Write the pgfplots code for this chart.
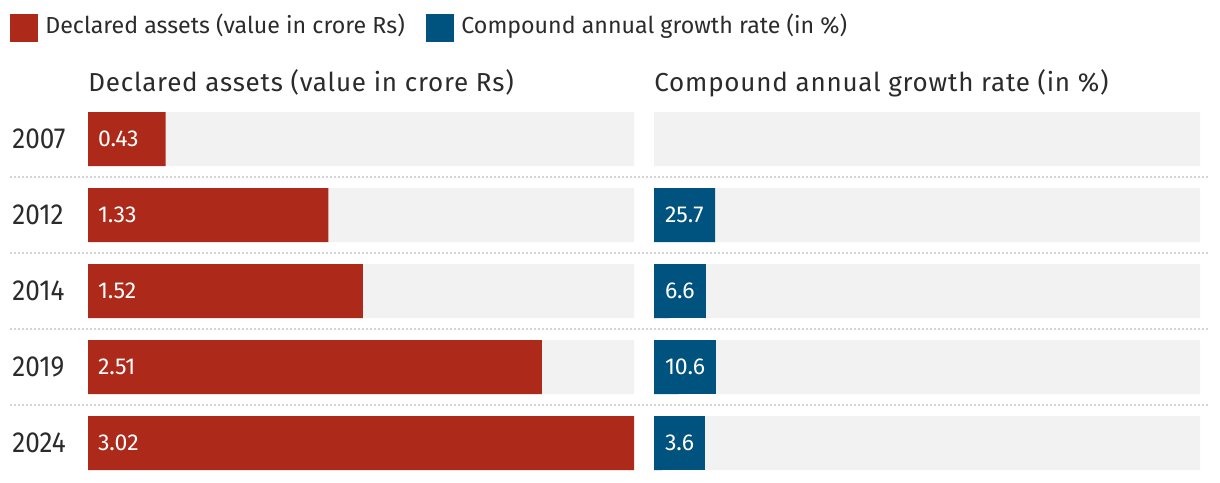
\documentclass[border=0pt]{standalone}
\usepackage{pgfplots}
\pgfplotsset{compat=1.18}
\usepackage{fontspec}
\setmainfont{Fira Sans}
\newfontfamily\yearfont[FakeStretch=0.9]{Fira Sans}
\newfontfamily\titlefont[LetterSpace=3]{Fira Sans}

\definecolor{assetred}{HTML}{AD2A1A}
\definecolor{cagrblue}{HTML}{00527F}
\definecolor{bggray}{HTML}{F2F2F2}
\definecolor{sepgray}{HTML}{D4D4D4}
\definecolor{txt}{HTML}{2B2B2B}

% one pixel of the reference
\newlength\px
\setlength\px{0.5pt}

\pgfplotsset{
  rowpanel/.style={
    anchor=north west,
    scale only axis, width=546\px, height=380\px,
    ymin=-0.5, ymax=4.5, y dir=reverse, xmin=0,
    axis line style={draw=none}, major tick length=0pt,
    xtick=\empty,
    clip=false,
    title style={at={(0,1)}, anchor=base west, yshift=-1pt, inner sep=0pt,
      font=\titlefont\fontsize{13}{15}\selectfont, text=txt},
  },
  rowbar/.style={xbar, bar width=54\px, bar shift=0pt, draw=none, fill=#1},
}

\begin{document}
\begin{tikzpicture}
\path[use as bounding box] (0,0) rectangle (1220\px,-482\px);

% legend
\fill[assetred] (10\px,-14\px) rectangle (38\px,-42\px);
\node[anchor=base west, inner sep=0pt, text=txt, font=\fontsize{11.6}{14}\selectfont]
  at (45\px,-33\px) {Declared assets (value in crore Rs)};
\fill[cagrblue] (426\px,-14\px) rectangle (454\px,-42\px);
\node[anchor=base west, inner sep=0pt, text=txt, font=\fontsize{11.6}{14}\selectfont]
  at (461\px,-33\px) {Compound annual growth rate (in \%)};

% dotted row separators
\foreach \yy in {177,253,329,405}
  \draw[sepgray, line width=2\px, dash pattern=on 2\px off 2\px]
    (10\px,-\yy\px) -- (1208\px,-\yy\px);

\begin{axis}[rowpanel,
  at={(88\px,-101\px)},
  xmax=3.02,
  ytick={0,1,2,3,4},
  yticklabels={2007,2012,2014,2019,2024},
  yticklabel style={font=\yearfont\fontsize{14.5}{17}\selectfont, text=txt,
    anchor=west, xshift=-76\px, inner xsep=0pt},
  title={Declared assets (value in crore Rs)},
]
\addplot[rowbar=bggray] coordinates {(3.02,0) (3.02,1) (3.02,2) (3.02,3) (3.02,4)};
\addplot[rowbar=assetred] coordinates {(0.43,0) (1.33,1) (1.52,2) (2.51,3) (3.02,4)};
\addplot[draw=none, mark=none, point meta=explicit symbolic, nodes near coords,
  nodes near coords style={anchor=west, inner xsep=10\px, inner ysep=0pt, outer sep=0pt,
    text=white, font=\fontsize{11.5}{14}\selectfont}]
  coordinates {(0,0) [0.43] (0,1) [1.33] (0,2) [1.52] (0,3) [2.51] (0,4) [3.02]};
\end{axis}

\begin{axis}[rowpanel,
  at={(654\px,-101\px)},
  xmax=230,
  ytick=\empty,
  title={Compound annual growth rate (in \%)},
]
\addplot[rowbar=bggray] coordinates {(230,0) (230,1) (230,2) (230,3) (230,4)};
\addplot[rowbar=cagrblue] coordinates {(25.7,1) (6.6,2) (10.6,3) (3.6,4)};
\addplot[draw=none, mark=none, point meta=explicit symbolic, nodes near coords,
  nodes near coords style={anchor=west, inner xsep=11\px, inner ysep=0pt, outer sep=0pt,
    minimum height=54\px, fill=cagrblue,
    text=white, font=\fontsize{11.5}{14}\selectfont}]
  coordinates {(0,1) [25.7] (0,2) [6.6] (0,3) [10.6] (0,4) [3.6]};
\end{axis}
\end{tikzpicture}
\end{document}
